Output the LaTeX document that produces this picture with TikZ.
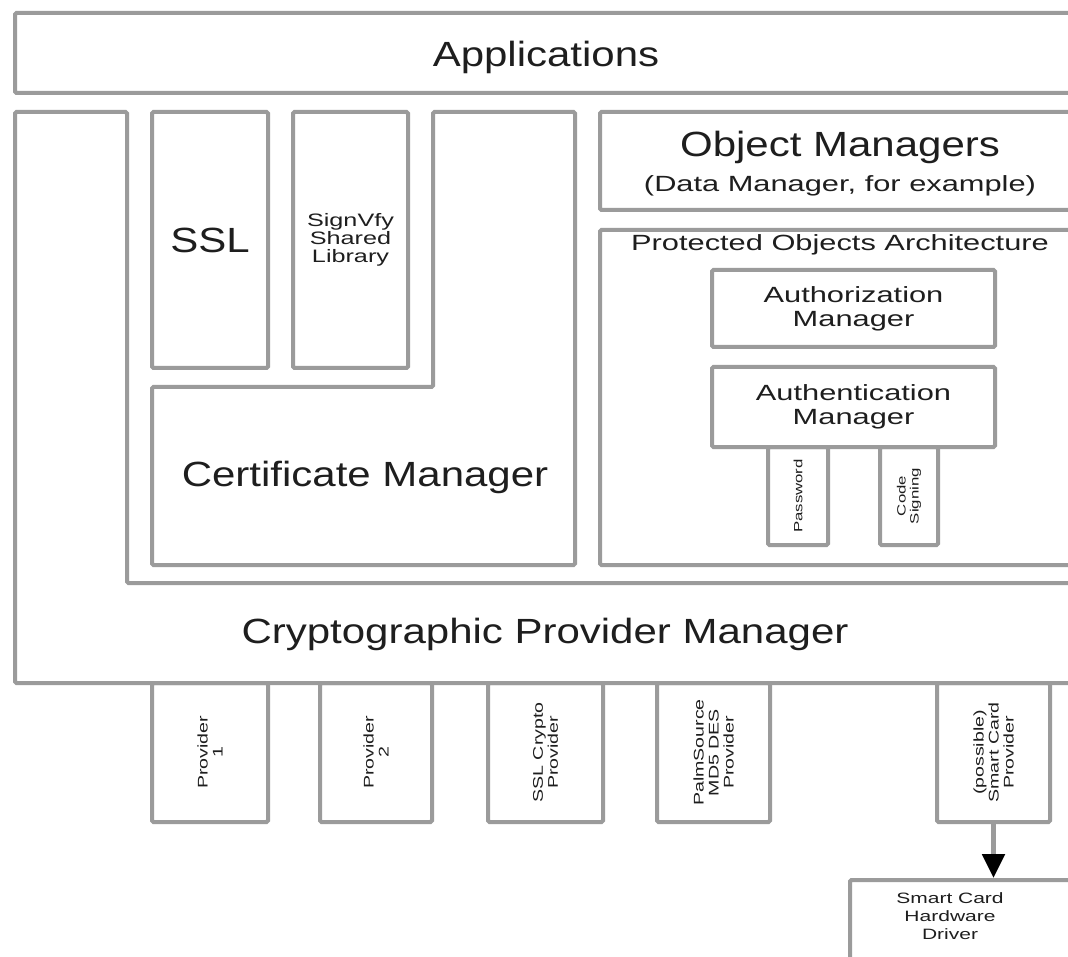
\documentclass[tikz,border=0pt]{standalone}
\usepackage{fontspec}
\setmainfont[FakeStretch=1.2]{Liberation Sans}
\newfontfamily\thinfont[FakeStretch=1.4]{Liberation Sans}
\usetikzlibrary{positioning,arrows.meta}
\definecolor{linegray}{RGB}{155,155,155}
\definecolor{inkgray}{RGB}{30,30,30}
\tikzset{
 blk/.style={draw=linegray, line width=4pt, rounded corners=1.5pt, inner sep=0pt},
 bigtxt/.style={font=\fontsize{35}{40}\selectfont, text=inkgray},
 smalltxt/.style={font=\thinfont\fontsize{22}{24}\selectfont, text=inkgray, align=center},
 tinytxt/.style={font=\thinfont\fontsize{18}{18}\selectfont, text=inkgray, align=center},
 sidetxt/.style={font=\thinfont\fontsize{14}{15}\selectfont, text=inkgray, align=center, rotate=90},
}

\begin{document}
\begin{tikzpicture}[x=1pt,y=-1pt]
 \useasboundingbox[fill=white] (0,0) rectangle (1068,957);
 \clip (0,0) rectangle (1068,957);

 % top layer
 \node[blk, minimum width=1060, minimum height=80] (apps) at (545,53) {};
 \node[bigtxt] (appst) at (546,57) {Applications};

 % provider manager and certificate manager outlines
 \draw[blk] (1075,583) -- (127,583) -- (127,112) -- (15,112) -- (15,683) -- (1075,683);
 \node[bigtxt] (cpm) at (545,634) {Cryptographic Provider Manager};
 \draw[blk] (433,112) -- (575,112) -- (575,565) -- (152,565) -- (152,387) -- (433,387) -- cycle;
 \node[bigtxt] (cert) at (365,477) {Certificate Manager};

 \node[blk, bigtxt, minimum width=116, minimum height=256] (ssl) at (210,240) {SSL};
 \node[blk, tinytxt, minimum width=115, minimum height=256] (sgn) at (350.5,240) {SignVfy\\Shared\\Library};

 % object managers side
 \node[blk, minimum width=480, minimum height=98] (objm) at (840,161) {};
 \node[bigtxt] (objmt) at (840,147) {Object Managers};
 \node[smalltxt] (objms) at (840,186) {(Data Manager, for example)};
 \node[blk, minimum width=480, minimum height=335] (poa) at (840,397.5) {};
 \node[smalltxt, below=3pt of poa.north] (poat) {Protected Objects Architecture};
 \node[blk, smalltxt, minimum width=283, minimum height=77] (authz) at (853.5,308.5) {Authorization\\Manager};
 \node[blk, smalltxt, minimum width=283, minimum height=80] (authn) at (853.5,407) {Authentication\\Manager};
 \node[blk, minimum width=60, minimum height=98] (pwd) at (798,496) {};
 \node[sidetxt, font=\thinfont\fontsize{12}{13}\selectfont] (pwdt) at (pwd) {Password};
 \node[blk, minimum width=58, minimum height=98] (code) at (909,496) {};
 \node[sidetxt, font=\thinfont\fontsize{12}{13}\selectfont] (codet) at (code) {Code\\Signing};

 % providers
 \node[blk, minimum width=116, minimum height=139] (prov1) at (210,752.5) {};
 \node[sidetxt] (prov1t) at (prov1) {Provider\\1};
 \node[blk, minimum width=112, minimum height=139] (prov2) at (376,752.5) {};
 \node[sidetxt] (prov2t) at (prov2) {Provider\\2};
 \node[blk, minimum width=115, minimum height=139] (sslp) at (545.5,752.5) {};
 \node[sidetxt] (sslpt) at (sslp) {SSL Crypto\\Provider};
 \node[blk, minimum width=113, minimum height=139] (palm) at (713.5,752.5) {};
 \node[sidetxt] (palmt) at (palm) {PalmSource\\MD5 DES\\Provider};
 \node[blk, minimum width=113, minimum height=139] (scp) at (993.5,752.5) {};
 \node[sidetxt] (scpt) at (scp) {(possible)\\Smart Card\\Provider};

 % hardware driver
 \node[blk, minimum width=240, minimum height=100] (drv) at (970,930) {};
 \node[smalltxt, font=\thinfont\fontsize{15}{18}\selectfont] (drvt) at (950,916) {Smart Card\\Hardware\\Driver};
 \draw[line width=5pt, draw=linegray, -{Triangle[length=24pt, width=22pt, black]}] (scp.south) -- (scp.south |- drv.north);
\end{tikzpicture}
\end{document}
